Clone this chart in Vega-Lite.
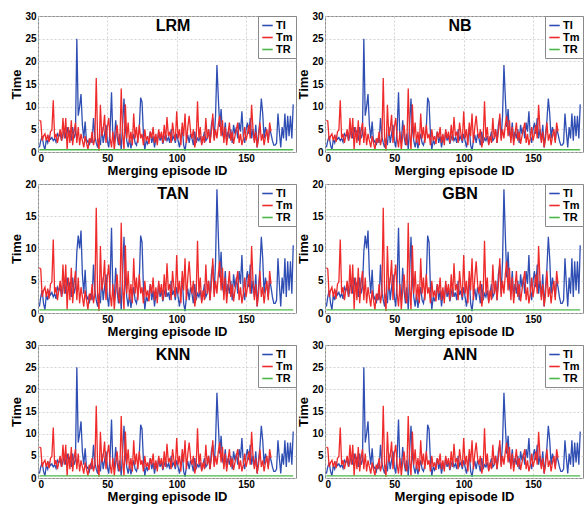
{
"$schema":"https://vega.github.io/schema/vega-lite/v6.json",
"padding":{"left":10,"top":10,"right":0,"bottom":0},
"config":{
 "font":"Liberation Sans",
 "view":{"stroke":"#8a8a8a","strokeWidth":1},
 "axis":{"ticks":false,"domain":false,"grid":true,"gridColor":"#c8c8c8","gridDash":[2,2],"gridWidth":0.8,"labelFont":"Liberation Sans","labelFontSize":10,"labelFontWeight":"bold","labelColor":"#000","titleFont":"Liberation Sans","titleFontSize":13,"titleFontWeight":"bold","titleColor":"#000"},
 "axisY":{"labelPadding":2,"titlePadding":1},
 "axisX":{"labelPadding":1,"titlePadding":1},
 "legend":{"orient":"top-right","offset":0,"strokeColor":"#8a8a8a","fillColor":"white","padding":3,"rowPadding":0,"labelFontSize":11,"labelFontWeight":"bold","labelColor":"#000","symbolType":"stroke","symbolSize":110,"symbolStrokeWidth":1.6,"labelOffset":2,"title":null},
 "title":{"fontSize":16,"fontWeight":"bold","color":"#000","anchor":"middle","frame":"group","baseline":"bottom","offset":-23,"dx":6},
 "concat":{"spacing":0}
},
"datasets":{"d":[
{"x":1,"TI":1.0,"TIb":1.0,"Tm":7.0,"TR":0.5},
{"x":2,"TI":2.5,"TIb":2.5,"Tm":6.8,"TR":0.5},
{"x":3,"TI":3.5,"TIb":3.5,"Tm":2.5,"TR":0.5},
{"x":4,"TI":1.5,"TIb":1.5,"Tm":3.5,"TR":0.5},
{"x":5,"TI":0.5,"TIb":0.5,"Tm":4.0,"TR":0.5},
{"x":6,"TI":2.8,"TIb":2.8,"Tm":2.5,"TR":0.5},
{"x":7,"TI":2.0,"TIb":2.0,"Tm":3.8,"TR":0.5},
{"x":8,"TI":3.5,"TIb":3.5,"Tm":2.2,"TR":0.5},
{"x":9,"TI":2.8,"TIb":2.8,"Tm":4.5,"TR":0.5},
{"x":10,"TI":3.2,"TIb":3.2,"Tm":4.8,"TR":0.5},
{"x":11,"TI":2.5,"TIb":2.5,"Tm":11.4,"TR":0.5},
{"x":12,"TI":3.0,"TIb":3.0,"Tm":3.0,"TR":0.5},
{"x":13,"TI":2.2,"TIb":2.2,"Tm":4.0,"TR":0.5},
{"x":14,"TI":4.0,"TIb":4.0,"Tm":2.0,"TR":0.5},
{"x":15,"TI":3.5,"TIb":3.5,"Tm":3.5,"TR":0.5},
{"x":16,"TI":4.0,"TIb":4.0,"Tm":5.0,"TR":0.5},
{"x":17,"TI":2.5,"TIb":2.5,"Tm":2.5,"TR":0.5},
{"x":18,"TI":3.8,"TIb":3.8,"Tm":7.5,"TR":0.5},
{"x":19,"TI":5.0,"TIb":5.0,"Tm":3.0,"TR":0.5},
{"x":20,"TI":3.0,"TIb":3.0,"Tm":7.5,"TR":0.5},
{"x":21,"TI":5.5,"TIb":5.5,"Tm":0.5,"TR":0.5},
{"x":22,"TI":3.5,"TIb":3.5,"Tm":5.5,"TR":0.5},
{"x":23,"TI":4.8,"TIb":4.8,"Tm":2.0,"TR":0.5},
{"x":24,"TI":2.5,"TIb":2.5,"Tm":7.0,"TR":0.5},
{"x":25,"TI":5.5,"TIb":5.5,"Tm":1.5,"TR":0.5},
{"x":26,"TI":3.0,"TIb":3.0,"Tm":4.5,"TR":0.5},
{"x":27,"TI":4.0,"TIb":4.0,"Tm":6.5,"TR":0.5},
{"x":28,"TI":25.0,"TIb":9.5,"Tm":2.0,"TR":0.5},
{"x":29,"TI":8.0,"TIb":12.0,"Tm":5.5,"TR":0.5},
{"x":30,"TI":10.0,"TIb":10.0,"Tm":1.5,"TR":0.5},
{"x":31,"TI":12.8,"TIb":12.8,"Tm":4.0,"TR":0.5},
{"x":32,"TI":6.0,"TIb":6.0,"Tm":2.5,"TR":0.5},
{"x":33,"TI":3.0,"TIb":3.0,"Tm":1.0,"TR":0.5},
{"x":34,"TI":6.7,"TIb":6.7,"Tm":3.5,"TR":0.5},
{"x":35,"TI":2.0,"TIb":2.0,"Tm":2.0,"TR":0.5},
{"x":36,"TI":2.5,"TIb":2.5,"Tm":0.5,"TR":0.5},
{"x":37,"TI":1.5,"TIb":1.5,"Tm":3.0,"TR":0.5},
{"x":38,"TI":3.0,"TIb":3.0,"Tm":2.0,"TR":0.5},
{"x":39,"TI":2.0,"TIb":2.0,"Tm":4.5,"TR":0.5},
{"x":40,"TI":7.5,"TIb":7.5,"Tm":1.5,"TR":0.5},
{"x":41,"TI":3.5,"TIb":3.5,"Tm":3.0,"TR":0.5},
{"x":42,"TI":2.0,"TIb":2.0,"Tm":16.3,"TR":0.5},
{"x":43,"TI":1.0,"TIb":1.0,"Tm":2.5,"TR":0.5},
{"x":44,"TI":3.0,"TIb":3.0,"Tm":0.3,"TR":0.5},
{"x":45,"TI":1.5,"TIb":1.5,"Tm":10.4,"TR":0.5},
{"x":46,"TI":5.5,"TIb":5.5,"Tm":3.5,"TR":0.5},
{"x":47,"TI":2.0,"TIb":2.0,"Tm":5.0,"TR":0.5},
{"x":48,"TI":4.0,"TIb":4.0,"Tm":8.2,"TR":0.5},
{"x":49,"TI":6.0,"TIb":6.0,"Tm":2.0,"TR":0.5},
{"x":50,"TI":2.5,"TIb":2.5,"Tm":5.5,"TR":0.5},
{"x":51,"TI":1.0,"TIb":1.0,"Tm":7.5,"TR":0.5},
{"x":52,"TI":5.0,"TIb":5.0,"Tm":3.0,"TR":0.5},
{"x":53,"TI":13.2,"TIb":13.2,"Tm":1.0,"TR":0.5},
{"x":54,"TI":3.0,"TIb":3.0,"Tm":4.5,"TR":0.5},
{"x":55,"TI":2.0,"TIb":2.0,"Tm":0.5,"TR":0.5},
{"x":56,"TI":7.0,"TIb":7.0,"Tm":3.5,"TR":0.5},
{"x":57,"TI":3.5,"TIb":3.5,"Tm":6.0,"TR":0.5},
{"x":58,"TI":1.5,"TIb":1.5,"Tm":2.5,"TR":0.5},
{"x":59,"TI":4.0,"TIb":4.0,"Tm":1.5,"TR":0.5},
{"x":60,"TI":0.5,"TIb":0.5,"Tm":14.0,"TR":0.5},
{"x":61,"TI":6.0,"TIb":6.0,"Tm":4.0,"TR":0.5},
{"x":62,"TI":11.8,"TIb":11.8,"Tm":0.5,"TR":0.5},
{"x":63,"TI":5.0,"TIb":5.0,"Tm":10.5,"TR":0.5},
{"x":64,"TI":2.5,"TIb":2.5,"Tm":3.0,"TR":0.5},
{"x":65,"TI":1.0,"TIb":1.0,"Tm":6.5,"TR":0.5},
{"x":66,"TI":3.0,"TIb":3.0,"Tm":2.0,"TR":0.5},
{"x":67,"TI":0.8,"TIb":0.8,"Tm":4.5,"TR":0.5},
{"x":68,"TI":2.5,"TIb":2.5,"Tm":1.5,"TR":0.5},
{"x":69,"TI":4.0,"TIb":4.0,"Tm":8.5,"TR":0.5},
{"x":70,"TI":2.0,"TIb":2.0,"Tm":3.0,"TR":0.5},
{"x":71,"TI":1.5,"TIb":1.5,"Tm":5.5,"TR":0.5},
{"x":72,"TI":3.0,"TIb":3.0,"Tm":2.0,"TR":0.5},
{"x":73,"TI":5.0,"TIb":5.0,"Tm":6.0,"TR":0.5},
{"x":74,"TI":12.0,"TIb":12.0,"Tm":3.0,"TR":0.5},
{"x":75,"TI":11.0,"TIb":11.0,"Tm":4.0,"TR":0.5},
{"x":76,"TI":4.0,"TIb":4.0,"Tm":1.5,"TR":0.5},
{"x":77,"TI":0.5,"TIb":0.5,"Tm":5.0,"TR":0.5},
{"x":78,"TI":2.5,"TIb":2.5,"Tm":2.5,"TR":0.5},
{"x":79,"TI":1.8,"TIb":1.8,"Tm":3.5,"TR":0.5},
{"x":80,"TI":3.0,"TIb":3.0,"Tm":1.8,"TR":0.5},
{"x":81,"TI":4.5,"TIb":4.5,"Tm":4.5,"TR":0.5},
{"x":82,"TI":2.0,"TIb":2.0,"Tm":3.0,"TR":0.5},
{"x":83,"TI":3.5,"TIb":3.5,"Tm":5.5,"TR":0.5},
{"x":84,"TI":1.0,"TIb":1.0,"Tm":2.0,"TR":0.5},
{"x":85,"TI":3.0,"TIb":3.0,"Tm":4.0,"TR":0.5},
{"x":86,"TI":2.2,"TIb":2.2,"Tm":1.5,"TR":0.5},
{"x":87,"TI":4.5,"TIb":4.5,"Tm":5.0,"TR":0.5},
{"x":88,"TI":2.5,"TIb":2.5,"Tm":3.0,"TR":0.5},
{"x":89,"TI":3.5,"TIb":3.5,"Tm":4.5,"TR":0.5},
{"x":90,"TI":1.8,"TIb":1.8,"Tm":2.0,"TR":0.5},
{"x":91,"TI":3.0,"TIb":3.0,"Tm":6.0,"TR":0.5},
{"x":92,"TI":4.0,"TIb":4.0,"Tm":2.5,"TR":0.5},
{"x":93,"TI":2.5,"TIb":2.5,"Tm":7.7,"TR":0.5},
{"x":94,"TI":3.2,"TIb":3.2,"Tm":3.5,"TR":0.5},
{"x":95,"TI":2.0,"TIb":2.0,"Tm":4.5,"TR":0.5},
{"x":96,"TI":5.0,"TIb":5.0,"Tm":2.0,"TR":0.5},
{"x":97,"TI":2.8,"TIb":2.8,"Tm":6.5,"TR":0.5},
{"x":98,"TI":3.5,"TIb":3.5,"Tm":4.0,"TR":0.5},
{"x":99,"TI":2.0,"TIb":2.0,"Tm":2.5,"TR":0.5},
{"x":100,"TI":4.0,"TIb":4.0,"Tm":9.0,"TR":0.5},
{"x":101,"TI":2.5,"TIb":2.5,"Tm":3.0,"TR":0.5},
{"x":102,"TI":1.0,"TIb":1.0,"Tm":5.0,"TR":0.5},
{"x":103,"TI":3.0,"TIb":3.0,"Tm":1.5,"TR":0.5},
{"x":104,"TI":5.5,"TIb":5.5,"Tm":6.5,"TR":0.5},
{"x":105,"TI":1.5,"TIb":1.5,"Tm":3.5,"TR":0.5},
{"x":106,"TI":0.3,"TIb":0.3,"Tm":8.5,"TR":0.5},
{"x":107,"TI":2.5,"TIb":2.5,"Tm":2.0,"TR":0.5},
{"x":108,"TI":3.8,"TIb":3.8,"Tm":5.5,"TR":0.5},
{"x":109,"TI":2.0,"TIb":2.0,"Tm":8.0,"TR":0.5},
{"x":110,"TI":4.0,"TIb":4.0,"Tm":4.5,"TR":0.5},
{"x":111,"TI":3.0,"TIb":3.0,"Tm":3.0,"TR":0.5},
{"x":112,"TI":1.5,"TIb":1.5,"Tm":5.0,"TR":0.5},
{"x":113,"TI":4.5,"TIb":4.5,"Tm":1.0,"TR":0.5},
{"x":114,"TI":2.0,"TIb":2.0,"Tm":2.5,"TR":0.5},
{"x":115,"TI":3.0,"TIb":3.0,"Tm":11.2,"TR":0.5},
{"x":116,"TI":2.5,"TIb":2.5,"Tm":3.0,"TR":0.5},
{"x":117,"TI":3.5,"TIb":3.5,"Tm":5.5,"TR":0.5},
{"x":118,"TI":1.8,"TIb":1.8,"Tm":1.5,"TR":0.5},
{"x":119,"TI":3.0,"TIb":3.0,"Tm":3.5,"TR":0.5},
{"x":120,"TI":4.5,"TIb":4.5,"Tm":2.0,"TR":0.5},
{"x":121,"TI":2.5,"TIb":2.5,"Tm":7.5,"TR":0.5},
{"x":122,"TI":3.0,"TIb":3.0,"Tm":3.0,"TR":0.5},
{"x":123,"TI":5.0,"TIb":5.0,"Tm":5.0,"TR":0.5},
{"x":124,"TI":2.0,"TIb":2.0,"Tm":2.0,"TR":0.5},
{"x":125,"TI":6.0,"TIb":6.0,"Tm":4.5,"TR":0.5},
{"x":126,"TI":7.5,"TIb":7.5,"Tm":8.5,"TR":0.5},
{"x":127,"TI":3.0,"TIb":3.0,"Tm":2.5,"TR":0.5},
{"x":128,"TI":8.0,"TIb":8.0,"Tm":5.0,"TR":0.5},
{"x":129,"TI":19.2,"TIb":19.2,"Tm":3.0,"TR":0.5},
{"x":130,"TI":12.0,"TIb":12.0,"Tm":6.0,"TR":0.5},
{"x":131,"TI":5.5,"TIb":5.5,"Tm":8.0,"TR":0.5},
{"x":132,"TI":9.5,"TIb":9.5,"Tm":3.5,"TR":0.5},
{"x":133,"TI":4.0,"TIb":4.0,"Tm":7.0,"TR":0.5},
{"x":134,"TI":3.0,"TIb":3.0,"Tm":2.0,"TR":0.5},
{"x":135,"TI":6.5,"TIb":6.5,"Tm":5.5,"TR":0.5},
{"x":136,"TI":2.5,"TIb":2.5,"Tm":1.5,"TR":0.5},
{"x":137,"TI":4.5,"TIb":4.5,"Tm":4.0,"TR":0.5},
{"x":138,"TI":3.0,"TIb":3.0,"Tm":6.5,"TR":0.5},
{"x":139,"TI":5.0,"TIb":5.0,"Tm":2.5,"TR":0.5},
{"x":140,"TI":2.0,"TIb":2.0,"Tm":4.5,"TR":0.5},
{"x":141,"TI":6.0,"TIb":6.0,"Tm":1.8,"TR":0.5},
{"x":142,"TI":4.0,"TIb":4.0,"Tm":3.5,"TR":0.5},
{"x":143,"TI":5.5,"TIb":5.5,"Tm":5.0,"TR":0.5},
{"x":144,"TI":3.0,"TIb":3.0,"Tm":6.5,"TR":0.5},
{"x":145,"TI":6.5,"TIb":6.5,"Tm":2.0,"TR":0.5},
{"x":146,"TI":4.5,"TIb":4.5,"Tm":4.0,"TR":0.5},
{"x":147,"TI":9.0,"TIb":9.0,"Tm":1.5,"TR":0.5},
{"x":148,"TI":3.5,"TIb":3.5,"Tm":3.0,"TR":0.5},
{"x":149,"TI":2.0,"TIb":2.0,"Tm":5.5,"TR":0.5},
{"x":150,"TI":5.0,"TIb":5.0,"Tm":2.5,"TR":0.5},
{"x":151,"TI":6.5,"TIb":6.5,"Tm":4.0,"TR":0.5},
{"x":152,"TI":4.0,"TIb":4.0,"Tm":6.0,"TR":0.5},
{"x":153,"TI":7.5,"TIb":7.5,"Tm":3.0,"TR":0.5},
{"x":154,"TI":3.0,"TIb":3.0,"Tm":10.4,"TR":0.5},
{"x":155,"TI":5.0,"TIb":5.0,"Tm":5.0,"TR":0.5},
{"x":156,"TI":2.5,"TIb":2.5,"Tm":2.0,"TR":0.5},
{"x":157,"TI":6.0,"TIb":6.0,"Tm":4.5,"TR":0.5},
{"x":158,"TI":1.0,"TIb":1.0,"Tm":1.0,"TR":0.5},
{"x":159,"TI":4.0,"TIb":4.0,"Tm":3.0,"TR":0.5},
{"x":160,"TI":7.0,"TIb":7.0,"Tm":6.5,"TR":0.5},
{"x":161,"TI":11.8,"TIb":11.8,"Tm":2.5,"TR":0.5},
{"x":162,"TI":8.5,"TIb":8.5,"Tm":4.0,"TR":0.5},
{"x":163,"TI":3.0,"TIb":3.0,"Tm":1.5,"TR":0.5},
{"x":164,"TI":5.5,"TIb":5.5,"Tm":3.5,"TR":0.5},
{"x":165,"TI":4.0,"TIb":4.0,"Tm":5.0,"TR":0.5},
{"x":166,"TI":2.5,"TIb":2.5,"Tm":2.0,"TR":0.5},
{"x":167,"TI":5.0,"TIb":5.0,"Tm":6.5,"TR":0.5},
{"x":168,"TI":4.0,"TIb":4.0,"Tm":4.5,"TR":0.5},
{"x":169,"TI":2.5,"TIb":2.5,"TR":0.5},
{"x":170,"TI":1.5,"TIb":1.5,"TR":0.5},
{"x":171,"TI":1.5,"TIb":1.5,"TR":0.5},
{"x":172,"TI":2.0,"TIb":2.0,"TR":0.5},
{"x":173,"TI":8.5,"TIb":8.5,"TR":0.5},
{"x":174,"TI":4.5,"TIb":4.5,"TR":0.5},
{"x":175,"TI":1.0,"TIb":1.0,"TR":0.5},
{"x":176,"TI":5.5,"TIb":5.5,"TR":0.5},
{"x":177,"TI":3.0,"TIb":3.0,"TR":0.5},
{"x":178,"TI":8.5,"TIb":8.5,"TR":0.5},
{"x":179,"TI":2.5,"TIb":2.5,"TR":0.5},
{"x":180,"TI":8.0,"TIb":8.0,"TR":0.5},
{"x":181,"TI":3.5,"TIb":3.5,"TR":0.5},
{"x":182,"TI":8.0,"TIb":8.0,"TR":0.5},
{"x":183,"TI":3.0,"TIb":3.0,"TR":0.5},
{"x":184,"TI":10.5,"TIb":10.5,"TR":0.5}
]},
"vconcat":[
 {"hconcat":[
  {"width":258,"height":136,"data":{"name":"d"},"title":"LRM",
   "transform":[{"fold":["TI","Tm","TR"],"as":["s","v"]},{"filter":"isValid(datum.v)"}],
   "mark":{"type":"line","strokeWidth":1.3,"clip":true},
   "encoding":{
    "x":{"field":"x","type":"quantitative","scale":{"domain":[0,186],"nice":false},"axis":{"values":[0,50,100,150],"title":"Merging episode ID"}},
    "y":{"field":"v","type":"quantitative","scale":{"domain":[0,30],"nice":false},"axis":{"values":[0,5,10,15,20,25,30],"title":"Time"}},
    "color":{"field":"s","type":"nominal","scale":{"domain":["TI","Tm","TR"],"range":["#2f4eb3","#ef2a2a","#4cb84a"]}}}},
  {"width":258,"height":136,"data":{"name":"d"},"title":"NB",
   "transform":[{"fold":["TI","Tm","TR"],"as":["s","v"]},{"filter":"isValid(datum.v)"}],
   "mark":{"type":"line","strokeWidth":1.3,"clip":true},
   "encoding":{
    "x":{"field":"x","type":"quantitative","scale":{"domain":[0,186],"nice":false},"axis":{"values":[0,50,100,150],"title":"Merging episode ID"}},
    "y":{"field":"v","type":"quantitative","scale":{"domain":[0,30],"nice":false},"axis":{"values":[0,5,10,15,20,25,30],"title":"Time"}},
    "color":{"field":"s","type":"nominal","scale":{"domain":["TI","Tm","TR"],"range":["#2f4eb3","#ef2a2a","#4cb84a"]}}}}
 ],"resolve":{"scale":{"color":"independent"},"legend":{"color":"independent"}}},
 {"hconcat":[
  {"width":258,"height":129,"data":{"name":"d"},"title":"TAN",
   "transform":[{"fold":["TIb","Tm","TR"],"as":["s","v"]},{"filter":"isValid(datum.v)"}],
   "mark":{"type":"line","strokeWidth":1.3,"clip":true},
   "encoding":{
    "x":{"field":"x","type":"quantitative","scale":{"domain":[0,186],"nice":false},"axis":{"values":[0,50,100,150],"title":"Merging episode ID"}},
    "y":{"field":"v","type":"quantitative","scale":{"domain":[0,20],"nice":false},"axis":{"values":[0,5,10,15,20],"title":"Time"}},
    "color":{"field":"s","type":"nominal","scale":{"domain":["TIb","Tm","TR"],"range":["#2f4eb3","#ef2a2a","#4cb84a"]},"legend":{"labelExpr":"datum.label == 'TIb' ? 'TI' : datum.label"}}}},
  {"width":258,"height":129,"data":{"name":"d"},"title":"GBN",
   "transform":[{"fold":["TIb","Tm","TR"],"as":["s","v"]},{"filter":"isValid(datum.v)"}],
   "mark":{"type":"line","strokeWidth":1.3,"clip":true},
   "encoding":{
    "x":{"field":"x","type":"quantitative","scale":{"domain":[0,186],"nice":false},"axis":{"values":[0,50,100,150],"title":"Merging episode ID"}},
    "y":{"field":"v","type":"quantitative","scale":{"domain":[0,20],"nice":false},"axis":{"values":[0,5,10,15,20],"title":"Time"}},
    "color":{"field":"s","type":"nominal","scale":{"domain":["TIb","Tm","TR"],"range":["#2f4eb3","#ef2a2a","#4cb84a"]},"legend":{"labelExpr":"datum.label == 'TIb' ? 'TI' : datum.label"}}}}
 ],"resolve":{"scale":{"color":"independent"},"legend":{"color":"independent"}}},
 {"hconcat":[
  {"width":258,"height":133,"data":{"name":"d"},"title":"KNN",
   "transform":[{"fold":["TI","Tm","TR"],"as":["s","v"]},{"filter":"isValid(datum.v)"}],
   "mark":{"type":"line","strokeWidth":1.3,"clip":true},
   "encoding":{
    "x":{"field":"x","type":"quantitative","scale":{"domain":[0,186],"nice":false},"axis":{"values":[0,50,100,150],"title":"Merging episode ID"}},
    "y":{"field":"v","type":"quantitative","scale":{"domain":[0,30],"nice":false},"axis":{"values":[0,5,10,15,20,25,30],"title":"Time"}},
    "color":{"field":"s","type":"nominal","scale":{"domain":["TI","Tm","TR"],"range":["#2f4eb3","#ef2a2a","#4cb84a"]}}}},
  {"width":258,"height":133,"data":{"name":"d"},"title":"ANN",
   "transform":[{"fold":["TI","Tm","TR"],"as":["s","v"]},{"filter":"isValid(datum.v)"}],
   "mark":{"type":"line","strokeWidth":1.3,"clip":true},
   "encoding":{
    "x":{"field":"x","type":"quantitative","scale":{"domain":[0,186],"nice":false},"axis":{"values":[0,50,100,150],"title":"Merging episode ID"}},
    "y":{"field":"v","type":"quantitative","scale":{"domain":[0,30],"nice":false},"axis":{"values":[0,5,10,15,20,25,30],"title":"Time"}},
    "color":{"field":"s","type":"nominal","scale":{"domain":["TI","Tm","TR"],"range":["#2f4eb3","#ef2a2a","#4cb84a"]}}}}
 ],"resolve":{"scale":{"color":"independent"},"legend":{"color":"independent"}}}
],
"spacing":0,
"resolve":{"scale":{"color":"independent"},"legend":{"color":"independent"}}
}
